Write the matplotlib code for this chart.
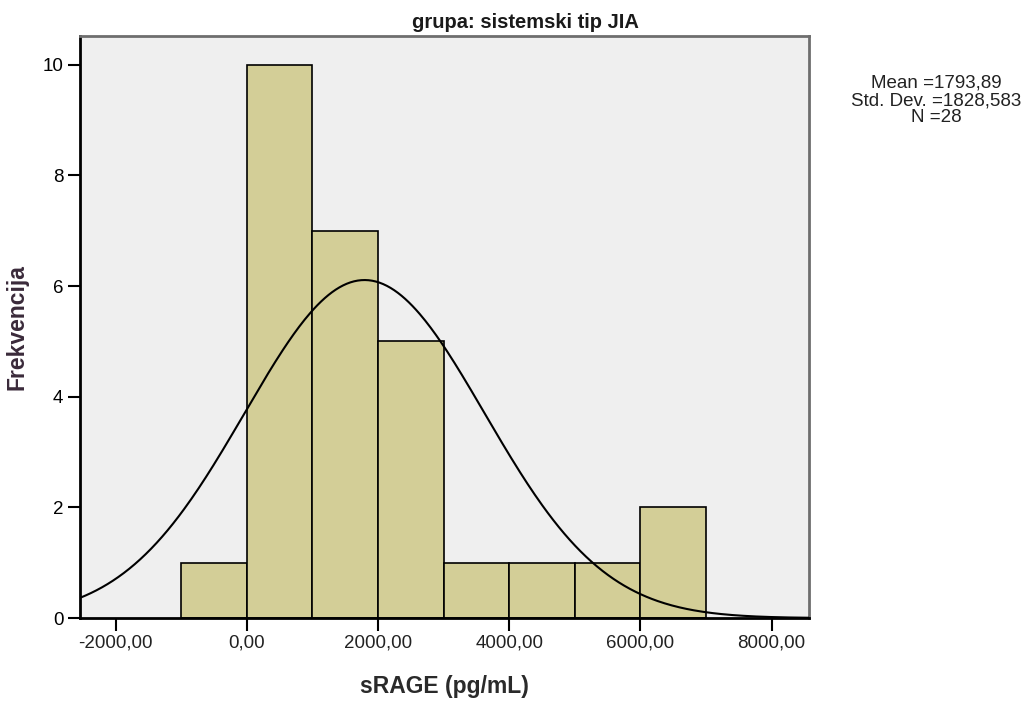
import numpy as np
import matplotlib
matplotlib.use('Agg')
import matplotlib.pyplot as plt
from matplotlib.ticker import FuncFormatter

plt.rcParams['font.family'] = ['Liberation Sans', 'DejaVu Sans']

# histogram bins (pg/mL) and counts
bin_edges = [-1000, 0, 1000, 2000, 3000, 4000, 5000, 6000, 7000]
counts = [1, 10, 7, 5, 1, 1, 1, 2]

mean = 1793.89
std = 1828.583
n = 28

x_ticks = [-2000, 0, 2000, 4000, 6000, 8000]
y_ticks = [0, 2, 4, 6, 8, 10]

fig = plt.figure(figsize=(10.29, 7.04), dpi=100)
ax = fig.add_axes([0.0777, 0.122, 0.7085, 0.827])
ax.set_facecolor('#efefef')

widths = np.diff(bin_edges)
ax.bar(bin_edges[:-1], counts, width=widths, align='edge',
       color='#d3ce97', edgecolor='black', linewidth=1.2, zorder=2)

# normal curve scaled to counts
xs = np.linspace(-2545, 8570, 400)
bw = widths[0]
ys = n * bw / (std * np.sqrt(2 * np.pi)) * np.exp(-0.5 * ((xs - mean) / std) ** 2)
ax.plot(xs, ys, color='black', linewidth=1.5, zorder=3)

ax.set_xlim(-2545, 8570)
ax.set_ylim(0, 10.52)
ax.set_xticks(x_ticks)
ax.set_yticks(y_ticks)
ax.xaxis.set_major_formatter(FuncFormatter(lambda v, p: f'{v:.2f}'.replace('.', ',')))
ax.tick_params(axis='both', direction='out', length=9, width=1.5,
               labelsize=13.5, colors='black', pad=3)
ax.tick_params(axis='x', labelcolor='#222222')

for s in ['left', 'bottom']:
    ax.spines[s].set_linewidth(2)
    ax.spines[s].set_color('black')
for s in ['top', 'right']:
    ax.spines[s].set_linewidth(2)
    ax.spines[s].set_color('#6e6e6e')

ax.set_xlabel('sRAGE (pg/mL)', fontsize=16.5, fontweight='bold', color='#2a2a2a', labelpad=17)
ax.set_ylabel('Frekvencija', fontsize=16.5, fontweight='bold', color='#3a2a3a', labelpad=10)

fig.text(0.511, 0.968, 'grupa: sistemski tip JIA', ha='center', va='center',
         fontsize=14.5, fontweight='bold', color='#1a1a1a')

stats = f'Mean ={mean:.2f}\nStd. Dev. ={std:.3f}\nN ={n}'.replace('.', ',').replace('Std, Dev,', 'Std. Dev.')
fig.text(0.91, 0.857, stats, ha='center', va='center', fontsize=13.5, linespacing=1.02,
         color='#222222')

fig.savefig('out.png', dpi=100)
